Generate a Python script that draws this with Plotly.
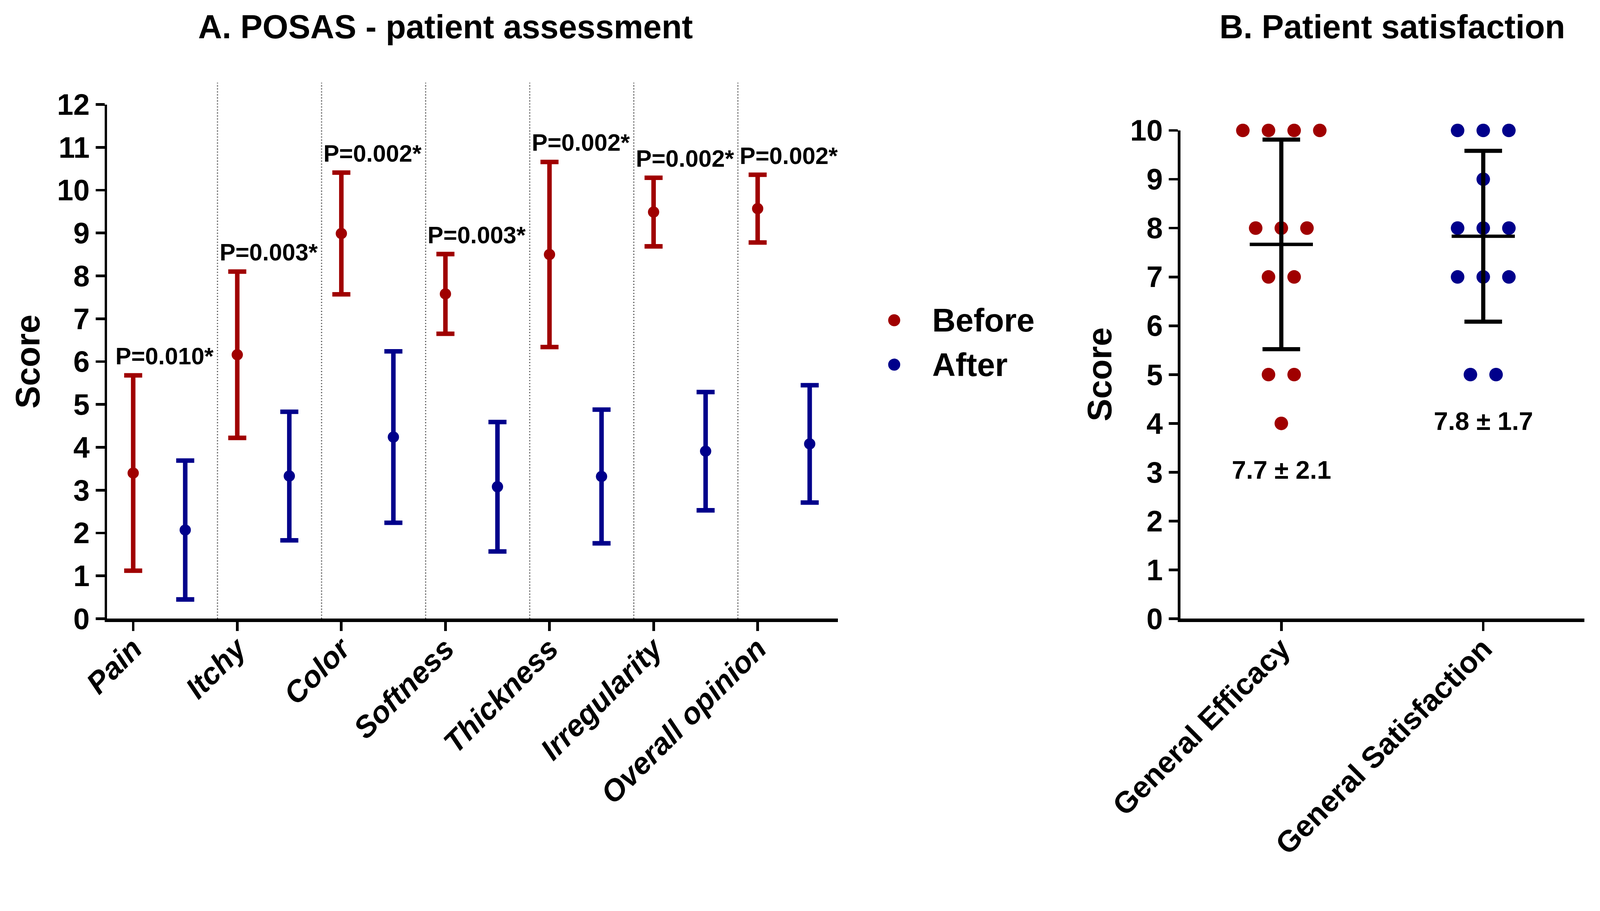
import numpy as np
import plotly.graph_objects as go

# ---------------- data ----------------
categories = ["Pain", "Itchy", "Color", "Softness", "Thickness", "Irregularity", "Overall opinion"]
before_mean = [3.40, 6.16, 8.99, 7.58, 8.50, 9.49, 9.57]
before_sd = [2.28, 1.94, 1.42, 0.93, 2.16, 0.80, 0.79]
after_mean = [2.07, 3.33, 4.24, 3.08, 3.32, 3.91, 4.08]
after_sd = [1.62, 1.50, 2.00, 1.51, 1.56, 1.38, 1.37]
p_labels = ["P=0.010*", "P=0.003*", "P=0.002*", "P=0.003*", "P=0.002*", "P=0.002*", "P=0.002*"]

sat_categories = ["General Efficacy", "General Satisfaction"]
efficacy_scores = [10, 10, 10, 10, 8, 8, 8, 7, 7, 5, 5, 4]
satisfaction_scores = [10, 10, 10, 9, 8, 8, 8, 7, 7, 7, 5, 5]

# ---------------- styles ----------------
RED = "#A00000"
BLUE = "#00008B"
FONT = "Liberation Sans"
W, H = 4255, 2333

fig = go.Figure()

# ---------------- panel A ----------------
x_before = np.arange(len(categories), dtype=float)
x_after = x_before + 0.5

for name, xs, means, sds, col in [("Before", x_before, before_mean, before_sd, RED),
                                   ("After", x_after, after_mean, after_sd, BLUE)]:
    fig.add_trace(go.Scatter(
        x=xs, y=means, mode="markers", name=name, showlegend=False, cliponaxis=False,
        marker=dict(color=col, size=30),
        error_y=dict(type="data", array=sds, color=col, thickness=12, width=24),
        xaxis="x", yaxis="y"))

annotations = []
for i, lab in enumerate(p_labels):
    annotations.append(dict(
        x=x_before[i] + 0.3, y=before_mean[i] + before_sd[i] + 0.45, xref="x", yref="y",
        text=lab, showarrow=False, xanchor="center", yanchor="middle",
        font=dict(family=FONT, size=63, color="black", weight="bold")))

# ---------------- panel B ----------------
def swarm_offsets(values, step=0.127):
    vals = np.asarray(values)
    offs = np.zeros(len(vals))
    for v in np.unique(vals):
        idx = np.where(vals == v)[0]
        n = len(idx)
        offs[idx] = (np.arange(n) - (n - 1) / 2) * step
    return offs

groups = [efficacy_scores, satisfaction_scores]
gcolors = [RED, BLUE]
for gi, (vals, col) in enumerate(zip(groups, gcolors)):
    fig.add_trace(go.Scatter(
        x=gi + swarm_offsets(vals), y=vals, mode="markers", showlegend=False, cliponaxis=False,
        marker=dict(color=col, size=36), xaxis="x2", yaxis="y2"))

means = [float(np.mean(v)) for v in groups]
sds = [float(np.std(v, ddof=1)) for v in groups]
fig.add_trace(go.Scatter(
    x=list(range(len(groups))), y=means, mode="markers", showlegend=False, cliponaxis=False,
    marker=dict(symbol="line-ew", size=120, color="black", line=dict(width=9, color="black")),
    error_y=dict(type="data", array=sds, color="black", thickness=11, width=50),
    xaxis="x2", yaxis="y2"))

for gi, vals in enumerate(groups):
    annotations.append(dict(
        x=gi, y=min(vals) - 0.95, xref="x2", yref="y2",
        text=f"{means[gi]:.1f} ± {sds[gi]:.1f}", showarrow=False,
        xanchor="center", yanchor="middle",
        font=dict(family=FONT, size=68, color="black", weight="bold")))

# ---------------- titles / axis titles / legend ----------------
annotations += [
    dict(x=1185 / W, y=1 - 72 / H, xref="paper", yref="paper", text="A. POSAS - patient assessment",
         showarrow=False, xanchor="center", yanchor="middle",
         font=dict(family=FONT, size=88, color="black", weight="bold")),
    dict(x=3702 / W, y=1 - 72 / H, xref="paper", yref="paper", text="B. Patient satisfaction",
         showarrow=False, xanchor="center", yanchor="middle",
         font=dict(family=FONT, size=88, color="black", weight="bold")),
    dict(x=74 / W, y=1 - 962 / H, xref="paper", yref="paper", text="Score", textangle=-90,
         showarrow=False, xanchor="center", yanchor="middle",
         font=dict(family=FONT, size=90, color="black", weight="bold")),
    dict(x=2924 / W, y=1 - 996 / H, xref="paper", yref="paper", text="Score", textangle=-90,
         showarrow=False, xanchor="center", yanchor="middle",
         font=dict(family=FONT, size=90, color="black", weight="bold")),
]

shapes = []
legend_items = [("Before", RED, 852), ("After", BLUE, 970)]
for lab, col, ypx in legend_items:
    yy = 1 - ypx / H
    shapes.append(dict(type="circle", xref="paper", yref="paper", xsizemode="pixel", ysizemode="pixel",
                       xanchor=2378 / W, yanchor=yy, x0=-16, x1=16, y0=-16, y1=16,
                       fillcolor=col, line=dict(width=0)))
    annotations.append(dict(x=2477 / W, y=yy, xref="paper", yref="paper", text=lab,
                            showarrow=False, xanchor="left", yanchor="middle",
                            font=dict(family=FONT, size=86, color="black", weight="bold")))

# dotted separators between categories
A_BOTTOM = 1 - 1646 / H
A_TOP = 1 - 278 / H
for i in range(len(categories) - 1):
    shapes.append(dict(type="line", xref="x", yref="paper", x0=x_before[i] + 0.81, x1=x_before[i] + 0.81,
                       y0=A_BOTTOM, y1=1 - 220 / H, layer="below",
                       line=dict(color="#555555", width=3, dash="3px,5px")))

axis_common = dict(showgrid=False, zeroline=False, showline=True, linecolor="black",
                   ticks="outside", tickcolor="black", ticklen=24, tickwidth=7, automargin=False)

fig.update_layout(
    width=W, height=H, margin=dict(l=0, r=0, t=0, b=0),
    paper_bgcolor="white", plot_bgcolor="white", showlegend=False,
    font=dict(family=FONT, color="black"),
    xaxis=dict(domain=[285 / W, 2228 / W], range=[-0.25, 6.77], anchor="y",
               tickmode="array", tickvals=x_before, ticktext=categories, tickangle=-45,
               linewidth=9, ticklabelstandoff=-32,
               tickfont=dict(family=FONT, size=80, color="black", weight="bold", style="italic"),
               **axis_common),
    yaxis=dict(domain=[A_BOTTOM, A_TOP], range=[0, 12], anchor="x", tickmode="linear", tick0=0, dtick=1,
               linewidth=7, tickfont=dict(family=FONT, size=78, color="black", weight="bold"),
               **axis_common),
    xaxis2=dict(domain=[3139 / W, 4213 / W], range=[-0.5, 1.5], anchor="y2",
                tickmode="array", tickvals=[0, 1], ticktext=sat_categories, tickangle=-45,
                linewidth=9, ticklabelstandoff=-32,
                tickfont=dict(family=FONT, size=80, color="black", weight="bold"),
                **axis_common),
    yaxis2=dict(domain=[A_BOTTOM, 1 - 347 / H], range=[0, 10], anchor="x2", tickmode="linear", tick0=0,
                dtick=1, linewidth=7, tickfont=dict(family=FONT, size=78, color="black", weight="bold"),
                **axis_common),
    annotations=annotations,
    shapes=shapes,
)

# fit the fixed-size figure into the actual browser viewport (no page margin, no scrollbars)
fit_script = """
var W = %d, H = %d;
document.documentElement.style.margin = '0';
document.body.style.margin = '0';
document.documentElement.style.overflow = 'hidden';
document.body.style.overflow = 'hidden';
var gd = document.getElementById('{plot_id}');
var s = Math.min(window.innerWidth / W, window.innerHeight / H);
gd.style.transformOrigin = '0 0';
gd.style.transform = 'scale(' + s + ')';
""" % (W, H)

fig.write_html("out.html", post_script=fit_script, config={"displayModeBar": False})
